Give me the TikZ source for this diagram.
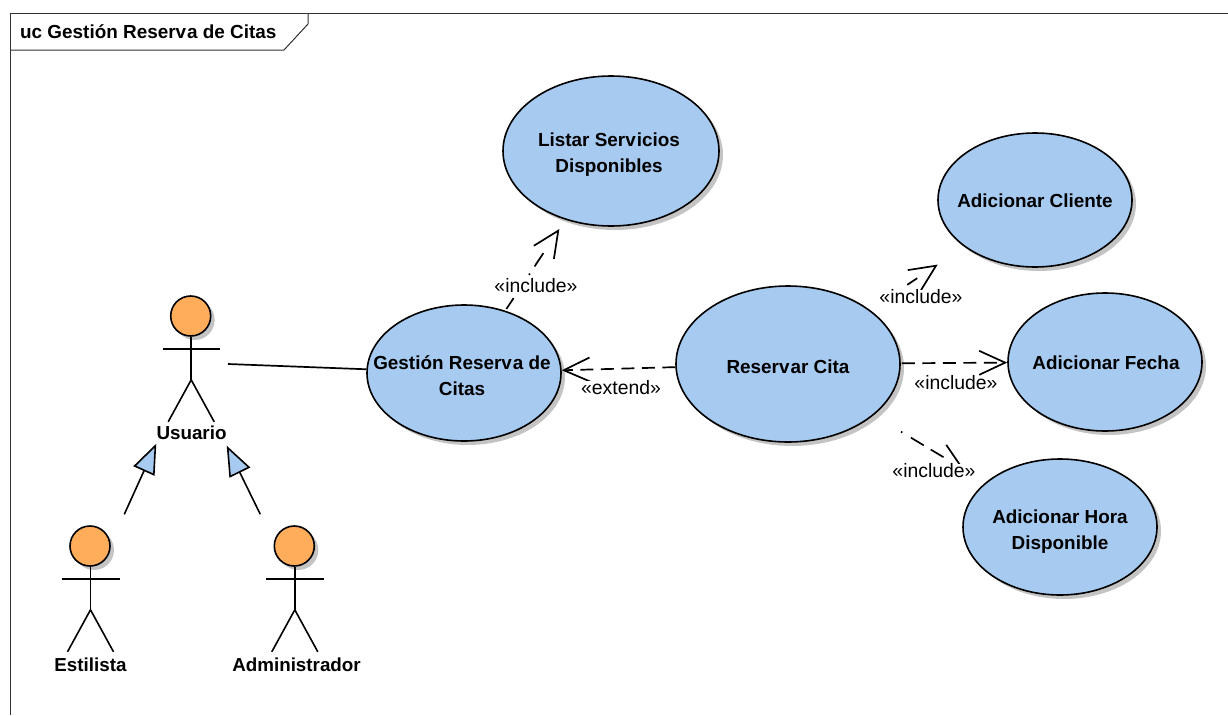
\documentclass[tikz,border=0pt]{standalone}
\usepackage{fontspec}
\setmainfont{Liberation Sans}
\usetikzlibrary{shapes.geometric,arrows.meta,shadows,calc}
\definecolor{ucblue}{HTML}{A6CAF0}
\definecolor{actororange}{HTML}{FFAD5B}
\definecolor{shadowgray}{HTML}{C4C4C4}
\tikzset{
  usecase/.style={ellipse,draw=black,line width=1.6pt,fill=ucblue,inner sep=0pt,
    drop shadow={shadow xshift=4pt,shadow yshift=-4pt,fill=shadowgray,opacity=1}},
  ucname/.style={align=center,inner sep=0pt,font=\fontsize{18.9}{26}\selectfont\bfseries},
  stick/.style={line width=1.6pt,black},
  head/.style={circle,draw=black,line width=1.6pt,fill=actororange,minimum size=40pt,inner sep=0pt,
    drop shadow={shadow xshift=4pt,shadow yshift=-4pt,fill=shadowgray,opacity=1}},
  actorname/.style={font=\fontsize{18.8}{20}\selectfont\bfseries,inner sep=0pt},
  dep/.style={line width=1.7pt,dash pattern=on 13pt off 7.5pt,
    -{Straight Barb[length=26pt,width=24pt,line width=1.7pt]}},
  deplabel/.style={fill=white,inner sep=0pt,font=\fontsize{19.4}{20}\selectfont},
  assoc/.style={line width=1.7pt},
  gener/.style={line width=1.6pt,-{Triangle[open,length=30pt,width=23pt,fill=ucblue,line width=1.6pt]}},
  frameline/.style={line width=1pt,black!80}
}
\begin{document}
\begin{tikzpicture}[x=1pt,y=-1pt]
\useasboundingbox (0,0) rectangle (1228,715);
% frame
\coordinate (ftr) at (1228,13);
\coordinate (ftl) at (10,13);
\coordinate (fbl) at (10,715);
\draw[frameline] (ftr) -- (ftl) -- (fbl);
\coordinate (tabA) at (308,13);
\coordinate (tabB) at (308,24);
\coordinate (tabC) at (284,50);
\coordinate (tabD) at (10,50);
\draw[frameline] (tabA) -- (tabB) -- (tabC) -- (tabD);
\node[anchor=west,inner sep=0pt,font=\fontsize{18.9}{20}\selectfont\bfseries] (title) at (20,32) {uc Gestión Reserv\kern1pt a de Citas};
% use cases
\node[usecase,minimum width=216pt,minimum height=150pt] (listar) at (611,151) {};
\node[usecase,minimum width=194pt,minimum height=134pt] (cliente) at (1035,200) {};
\node[usecase,minimum width=194pt,minimum height=136pt] (gestion) at (464,373) {};
\node[usecase,minimum width=224pt,minimum height=156pt] (reservar) at (788,364) {};
\node[usecase,minimum width=194pt,minimum height=138pt] (fecha) at (1105,362) {};
\node[usecase,minimum width=194pt,minimum height=136pt] (hora) at (1060,527) {};
\node[ucname] (tlistar) at (609,155) {Listar Serv\kern1pt icios\\Disponibles};
\node[ucname] (tcliente) at (1035,201) {Adicionar Cliente};
\node[ucname] (tgestion) at (462,375.5) {Gestión Reserv\kern1pt a de\\Citas};
\node[ucname] (treservar) at (788,367) {Reserv\kern1pt ar Cita};
\node[ucname] (tfecha) at (1106,363) {Adicionar Fecha};
\node[ucname] (thora) at (1060,532) {Adicionar Hora\\Disponible};
% actors
\foreach \nm/\hx/\hy in {usuario/190.7/316,estilista/90/546,admin/294.3/546}{
  \node[head] (\nm) at (\hx,\hy) {};
  \draw[stick] (\nm.south) ++(0.5,0) coordinate (\nm hip0) -- ++(0,43) coordinate (\nm hip);
  \draw[stick] ($(\nm.south)+(-28,12)$) -- ++(57.5,0);
  \draw[stick] ($(\nm hip)+(-23,42)$) -- (\nm hip) -- ++(23,42);
}
\node[actorname] (lusuario) at (191.5,433) {Usuario};
\node[actorname] (lestilista) at (90.5,665) {Estilista};
\node[actorname] (ladmin) at (296.5,665) {Administrador};
% connectors
\coordinate (usuarioR) at (228,364);
\draw[assoc] (usuarioR) -- (gestion);
\coordinate (genA) at (124.3,514.3);
\coordinate (genAend) at (156.3,443.7);
\coordinate (genB) at (260.3,514.3);
\coordinate (genBend) at (226.7,445.7);
\draw[gener] (genA) -- (genAend);
\draw[gener] (genB) -- (genBend);
\draw[dep,shorten <=2pt,shorten >=11pt,dash pattern=on 13pt off 28pt on 1.5pt off 8.5pt on 16pt off 60pt] (gestion) -- (listar);
\draw[dep] (reservar) -- (gestion);
\draw[dep,shorten <=45pt,shorten >=32pt,dash pattern=on 12pt off 60pt] (reservar) -- (cliente);
\draw[dep,shorten <=1pt] (reservar) -- (fecha);
\draw[dep,shorten <=32pt,shorten >=25pt,dash pattern=on 1.5pt off 10pt on 15pt off 8pt on 15pt off 60pt] (reservar) -- (hora);
% labels
\node[deplabel] (l1) at (536,286) {«include»};
\node[deplabel] (l2) at (621,388) {«extend»};
\node[deplabel] (l3) at (921,297) {«include»};
\node[deplabel] (l4) at (956,383) {«include»};
\node[deplabel] (l5) at (934,471) {«include»};
\end{tikzpicture}
\end{document}
